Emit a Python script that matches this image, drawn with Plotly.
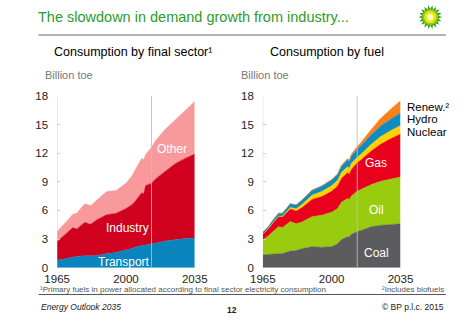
import math
import plotly.graph_objects as go

W, H = 474, 326

years = [1965, 1968, 1970, 1973, 1975, 1979, 1982, 1985, 1990, 1995, 2000, 2003,
         2005, 2008, 2009, 2010, 2013, 2015, 2020, 2025, 2030, 2035]

# Consumption by final sector (Billion toe)
transport = [0.77, 0.9, 1.0, 1.12, 1.18, 1.25, 1.22, 1.25, 1.45, 1.6, 1.85, 2.0,
             2.2, 2.3, 2.3, 2.35, 2.45, 2.55, 2.8, 2.95, 3.05, 3.1]
industry = [1.98, 2.4, 2.7, 3.08, 2.87, 3.5, 3.33, 3.75, 4.1, 4.1, 4.35, 4.6,
            4.85, 5.55, 5.45, 6.25, 6.4, 6.75, 7.3, 7.95, 8.4, 8.8]
other = [1.05, 1.1, 1.2, 1.4, 1.65, 1.95, 1.95, 2.05, 2.4, 2.4, 2.65, 3.0,
         3.35, 3.6, 3.55, 3.25, 3.75, 4.0, 4.4, 4.6, 5.05, 5.5]

# Consumption by fuel (Billion toe)
coal = [1.35, 1.4, 1.45, 1.5, 1.5, 1.75, 1.8, 2.0, 2.2, 2.15, 2.2, 2.5,
        2.95, 3.25, 3.25, 3.5, 3.8, 3.9, 4.3, 4.45, 4.5, 4.6]
oil = [1.55, 1.95, 2.3, 2.8, 2.7, 3.1, 2.8, 2.8, 3.15, 3.35, 3.6, 3.7,
       3.9, 4.0, 3.9, 4.0, 4.2, 4.3, 4.4, 4.6, 4.8, 4.9]
gas = [0.6, 0.75, 0.9, 1.05, 1.1, 1.3, 1.35, 1.5, 1.8, 1.95, 2.2, 2.35,
       2.5, 2.7, 2.65, 2.8, 3.0, 3.1, 3.5, 3.9, 4.2, 4.5]
nuclear = [0.01, 0.02, 0.02, 0.05, 0.09, 0.16, 0.22, 0.34, 0.45, 0.53, 0.58, 0.6,
           0.63, 0.62, 0.61, 0.63, 0.56, 0.6, 0.7, 0.8, 0.85, 0.9]
hydro = [0.21, 0.23, 0.27, 0.3, 0.32, 0.38, 0.4, 0.44, 0.49, 0.56, 0.6, 0.61,
         0.66, 0.72, 0.74, 0.78, 0.86, 0.9, 1.0, 1.1, 1.2, 1.3]
renew = [0.0, 0.0, 0.0, 0.01, 0.01, 0.02, 0.02, 0.03, 0.04, 0.05, 0.06, 0.07,
         0.09, 0.12, 0.14, 0.17, 0.28, 0.34, 0.55, 0.8, 1.05, 1.3]

base_year = 2013
x_ticks = [1965, 2000, 2035]
y_ticks = [0, 3, 6, 9, 12, 15, 18]

FONT = "Liberation Sans, Arial, sans-serif"

def px(x):
    return x / W

def py(y):
    return 1 - y / H

fig = go.Figure()

sector_series = [("Transport", transport, "#0a84bd"),
                 ("Industry", industry, "#d0021f"),
                 ("Other", other, "#f89a9c")]
for name, vals, col in sector_series:
    fig.add_trace(go.Scatter(x=years, y=vals, name=name, stackgroup="a",
                             mode="lines", line=dict(width=0.5, color=col),
                             fillcolor=col, xaxis="x", yaxis="y",
                             hoverinfo="skip"))

fuel_series = [("Coal", coal, "#5c5c5e"),
               ("Oil", oil, "#99cc0f"),
               ("Gas", gas, "#e8001c"),
               ("Nuclear", nuclear, "#ffd100"),
               ("Hydro", hydro, "#0d8cc2"),
               ("Renew.", renew, "#f7821c")]
for name, vals, col in fuel_series:
    fig.add_trace(go.Scatter(x=years, y=vals, name=name, stackgroup="b",
                             mode="lines", line=dict(width=0.5, color=col),
                             fillcolor=col, xaxis="x2", yaxis="y2",
                             hoverinfo="skip"))

axis_common = dict(showgrid=False, zeroline=False, showline=False,
                   tickfont=dict(family=FONT, size=11.5, color="#222"))
xdomL = [px(46.7), px(192.3)]
xdomR = [px(264.3), px(410)]
ydom = [py(271.7), py(93.3)]

fig.update_layout(
    width=W, height=H, margin=dict(l=0, r=0, t=0, b=0),
    paper_bgcolor="white", plot_bgcolor="white", showlegend=False,
    xaxis=dict(domain=xdomL, range=[1965, 2035], tickvals=x_ticks,
               ticks="", ticklabelstandoff=3, anchor="y", **axis_common),
    yaxis=dict(domain=ydom, range=[0, 18], tickvals=y_ticks, ticks="inside",
               ticklen=3, tickcolor="#ccc", ticklabelstandoff=8, anchor="x",
               **axis_common),
    xaxis2=dict(domain=xdomR, range=[1965, 2035], tickvals=x_ticks,
                ticks="", ticklabelstandoff=3, anchor="y2", **axis_common),
    yaxis2=dict(domain=ydom, range=[0, 18], tickvals=y_ticks, ticks="inside",
                ticklen=3, tickcolor="#ccc", ticklabelstandoff=8, anchor="x2",
                **axis_common),
)

shapes = []
# left axis lines and base-year markers
for xr, yr in (("x", "y"), ("x2", "y2")):
    shapes.append(dict(type="line", xref=xr, yref=yr, x0=1965, x1=1965, y0=0, y1=18,
                       line=dict(color="#d4d4d4", width=1), layer="below"))
    shapes.append(dict(type="line", xref=xr, yref=yr, x0=base_year, x1=base_year,
                       y0=0, y1=18, line=dict(color="rgba(190,190,190,0.85)", width=1),
                       layer="above"))
# header rule and footer rule
shapes.append(dict(type="line", xref="paper", yref="paper", x0=px(27), x1=px(458),
                   y0=py(30), y1=py(30), line=dict(color="#9a9a9a", width=1.5)))
shapes.append(dict(type="line", xref="paper", yref="paper", x0=px(27), x1=px(458),
                   y0=py(299.5), y1=py(299.5), line=dict(color="#555", width=1)))

# BP helios logo
cx, cy, R, r = 441.5, 11.5, 12.5, 8.5
pts = []
n = 18
for i in range(2 * n):
    ang = math.pi * i / n
    rad = R if i % 2 == 0 else r
    pts.append((cx + rad * math.cos(ang), cy + rad * math.sin(ang)))
path = "M " + " L ".join(f"{px(a):.5f},{py(b):.5f}" for a, b in pts) + " Z"
shapes.append(dict(type="path", xref="paper", yref="paper", path=path,
                   fillcolor="#2e9e1c", line=dict(width=0)))
for rad, col in ((8.5, "#8cc81e"), (6.5, "#f4e400"), (3.5, "#fffbd0")):
    shapes.append(dict(type="circle", xref="paper", yref="paper",
                       x0=px(cx - rad), x1=px(cx + rad), y0=py(cy + rad), y1=py(cy - rad),
                       fillcolor=col, line=dict(width=0)))

fig.update_layout(shapes=shapes)

ann = []
def text(x, y, s, size=12, color="#000", xa="left", ya="middle", bold=False, italic=False):
    if bold:
        s = f"<b>{s}</b>"
    if italic:
        s = f"<i>{s}</i>"
    ann.append(dict(x=px(x), y=py(y), xref="paper", yref="paper", text=s,
                    showarrow=False, xanchor=xa, yanchor=ya,
                    font=dict(family=FONT, size=size, color=color)))

text(24, 11, "The slowdown in demand growth from industry...", size=14.5, color="#2a9d2a")
text(127, 47.5, "Consumption by final sector¹", size=12.5, xa="center")
text(332, 47.5, "Consumption by fuel", size=12.5, xa="center")
text(32, 72, "Billion toe", size=11, color="#777")
text(239, 72, "Billion toe", size=11, color="#777")

text(168.7, 148.3, "Other", size=12, color="white", xa="center")
text(120.7, 231, "Industry", size=12, color="white", xa="center")
text(117.3, 266, "Transport", size=12, color="white", xa="center")
text(384.3, 163.3, "Gas", size=12, color="white", xa="center")
text(384.3, 212.3, "Oil", size=12, color="white", xa="center")
text(385, 256.7, "Coal", size=12, color="white", xa="center")

text(414.5, 105, "Renew.²", size=11.5)
text(414.5, 117.7, "Hydro", size=11.5)
text(414.5, 130.5, "Nuclear", size=11.5)

text(26, 294.5, "¹Primary fuels in power allocated according to final sector electricity consumption",
     size=8, color="#555")
text(458, 294.5, "²Includes biofuels", size=8, color="#555", xa="right")
text(27, 312, "Energy Outlook 2035", size=8.5, color="#222", italic=True)
text(232, 316, "12", size=8.5, color="#222", xa="center", bold=True)
text(458, 313, "© BP p.l.c. 2015", size=8.5, color="#222", xa="right")

fig.update_layout(annotations=ann)

fig.write_html("out.html")
